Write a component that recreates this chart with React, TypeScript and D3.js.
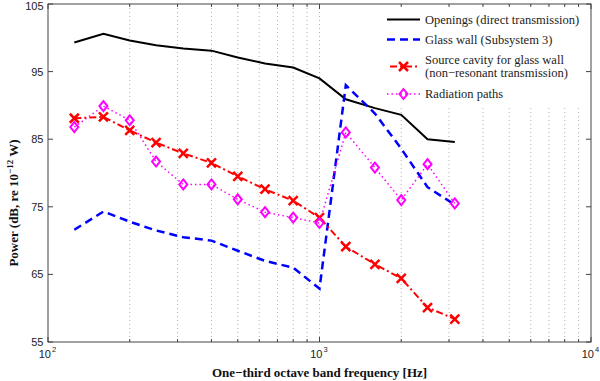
import React from "react";
import * as d3 from "d3";

const freqs = [125, 160, 200, 250, 315, 400, 500, 630, 800, 1000, 1250, 1600, 2000, 2500, 3150];
const openings = [99.3, 100.6, 99.6, 98.9, 98.4, 98.1, 97.1, 96.2, 95.6, 94.0, 90.9, 89.6, 88.6, 85.0, 84.6];
const glassWall = [71.6, 74.3, 72.8, 71.5, 70.5, 70.0, 68.5, 67.0, 66.0, 62.9, 93.0, 88.8, 83.6, 77.9, 75.3];
const sourceCavity = [88.1, 88.3, 86.3, 84.5, 82.9, 81.5, 79.5, 77.6, 75.9, 73.4, 69.1, 66.5, 64.4, 60.1, 58.4];
const radiation = [86.8, 89.9, 87.8, 81.7, 78.3, 78.3, 76.1, 74.2, 73.4, 72.6, 86.0, 80.8, 76.0, 81.3, 75.5];

const yTicks = [55, 65, 75, 85, 95, 105];
const xMajor = [100, 1000, 10000];
const xExp = ["2", "3", "4"];
const xMinor = [200, 300, 400, 500, 600, 700, 800, 900, 2000, 3000, 4000, 5000, 6000, 7000, 8000, 9000];

const legendLabels = [
  ["Openings (direct transmission)"],
  ["Glass wall (Subsystem 3)"],
  ["Source cavity for glass wall", "(non\u2212resonant transmission)"],
  ["Radiation paths"],
];

const W = 600, H = 381;
const L = 48, R = 591, T = 4, B = 342;

export default function App() {
  const x = d3.scaleLog().domain([100, 10000]).range([L, R]);
  const y = d3.scaleLinear().domain([55, 105]).range([B, T]);
  const line = (vals: number[]) =>
    d3.line<number>().x((_, i) => x(freqs[i])).y((v) => y(v))(vals) || "";

  const serif = "'Liberation Serif', 'Times New Roman', serif";
  const sans = "'Liberation Sans', Arial, sans-serif";

  const xMark = (cx: number, cy: number, k: string, s = 4.5) => (
    <path key={k} d={`M${cx - s},${cy - s}L${cx + s},${cy + s}M${cx - s},${cy + s}L${cx + s},${cy - s}`} stroke="#ff0000" strokeWidth={2.5} fill="none" />
  );
  const diamond = (cx: number, cy: number, k: string) => (
    <path key={k} d={`M${cx},${cy - 5}L${cx + 4},${cy}L${cx},${cy + 5}L${cx - 4},${cy}Z`} stroke="#ff00ff" strokeWidth={2} fill="none" />
  );

  const legX0 = 387, legX1 = 420, legText = 425;
  const legRows = [19.5, 39.5, 66.5, 94];

  return (
    <svg width={W} height={H} style={{ position: "absolute", left: 0, top: 0, background: "#fff" }}>
      <rect x={0} y={0} width={W} height={H} fill="#fff" />
      {/* grid */}
      {[...xMinor, 1000].map((f) => (
        <line key={"g" + f} x1={x(f)} x2={x(f)} y1={T} y2={B} stroke="#b0b0b0" strokeWidth={1} strokeDasharray="1,3" />
      ))}
      {/* legend background */}
      <rect x={378} y={T + 1} width={R - 379} height={102} fill="#fff" />
      {/* ticks */}
      {xMinor.map((f) => (
        <g key={"mt" + f}>
          <line x1={x(f)} x2={x(f)} y1={B} y2={B - 3} stroke="#444" />
          <line x1={x(f)} x2={x(f)} y1={T} y2={T + 3} stroke="#444" />
        </g>
      ))}
      {xMajor.map((f, i) => (
        <g key={"Mt" + f}>
          <line x1={x(f)} x2={x(f)} y1={B} y2={B - 5} stroke="#444" />
          <line x1={x(f)} x2={x(f)} y1={T} y2={T + 5} stroke="#444" />
          <text x={x(f) + 3} y={358} textAnchor="end" fontFamily={sans} fontSize={11} fill="#222">10</text>
          <text x={x(f) + 4} y={352} fontFamily={sans} fontSize={7.5} fill="#222">{xExp[i]}</text>
        </g>
      ))}
      {yTicks.map((v) => (
        <g key={"yt" + v}>
          <line x1={L} x2={L + 5} y1={y(v)} y2={y(v)} stroke="#444" />
          <line x1={R} x2={R - 5} y1={y(v)} y2={y(v)} stroke="#444" />
          <text x={43.5} y={Math.max(y(v) + 4, 10)} textAnchor="end" fontFamily={sans} fontSize={11} fill="#222">{v}</text>
        </g>
      ))}
      {/* frame */}
      <rect x={L} y={T} width={R - L} height={B - T} fill="none" stroke="#444" strokeWidth={1} />
      {/* series */}
      <path d={line(openings)} fill="none" stroke="#000" strokeWidth={2} />
      <path d={line(glassWall)} fill="none" stroke="#0000ff" strokeWidth={2.5} strokeDasharray="8,5" />
      <path d={line(sourceCavity)} fill="none" stroke="#ff0000" strokeWidth={2} strokeDasharray="7,3,2,3" />
      {sourceCavity.map((v, i) => xMark(x(freqs[i]), y(v), "sx" + i))}
      <path d={line(radiation)} fill="none" stroke="#ff00ff" strokeWidth={1.5} strokeDasharray="1.5,3" />
      {radiation.map((v, i) => diamond(x(freqs[i]), y(v), "rd" + i))}
      {/* legend */}
      <line x1={legX0} x2={legX1} y1={legRows[0]} y2={legRows[0]} stroke="#000" strokeWidth={2} />
      <line x1={legX0} x2={legX1} y1={legRows[1]} y2={legRows[1]} stroke="#0000ff" strokeWidth={2.5} strokeDasharray="8,5" />
      <line x1={legX0} x2={legX1} y1={legRows[2]} y2={legRows[2]} stroke="#ff0000" strokeWidth={2} strokeDasharray="7,3,2,3" strokeDashoffset={-3} />
      {xMark((legX0 + legX1) / 2, legRows[2], "lx")}
      <line x1={legX0} x2={legX1} y1={legRows[3]} y2={legRows[3]} stroke="#ff00ff" strokeWidth={1.5} strokeDasharray="1.5,3" />
      {diamond((legX0 + legX1) / 2, legRows[3], "ld")}
      {legendLabels.map((lines, i) => (
        <text key={"lt" + i} fontFamily={serif} fontSize={12.5} fill="#222">
          {lines.map((s, j) => (
            <tspan key={j} x={legText} y={legRows[i] + 4 + (lines.length > 1 ? (j - 0.5) * 13.5 : 0)}>{s}</tspan>
          ))}
        </text>
      ))}
      {/* axis labels */}
      <text x={(L + R) / 2} y={377} textAnchor="middle" fontFamily={serif} fontSize={13} fontWeight="bold" fill="#111">
        One{"\u2212"}third octave band frequency [Hz]
      </text>
      <text transform="translate(18,203) rotate(-90)" textAnchor="middle" fontFamily={serif} fontSize={13} fontWeight="bold" fill="#111">
        Power (dB, re 10<tspan dy={-5} fontSize={9}>{"\u2212"}12</tspan><tspan dy={5}> W)</tspan>
      </text>
    </svg>
  );
}
